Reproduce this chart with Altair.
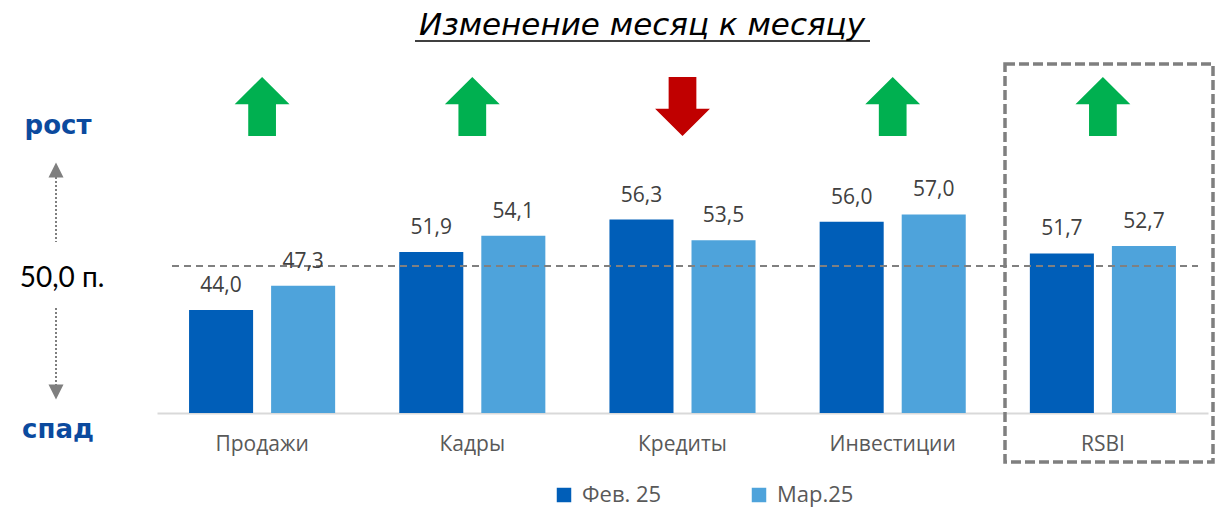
import altair as alt
import pandas as pd

# ---------------- data ----------------
categories = ["Продажи", "Кадры", "Кредиты", "Инвестиции", "RSBI"]
feb_values = [44.0, 51.9, 56.3, 56.0, 51.7]
mar_values = [47.3, 54.1, 53.5, 57.0, 52.7]
series_names = ["Фев. 25", "Мар.25"]
series_colors = ["#005EB8", "#4EA3DB"]
threshold = 50.0
y_min, y_max = 30, 78
title_text = "Изменение месяц к месяцу"

rows = []
for c, f, m in zip(categories, feb_values, mar_values):
    rows.append({"cat": c, "series": series_names[0], "value": f})
    rows.append({"cat": c, "series": series_names[1], "value": m})
df = pd.DataFrame(rows)

arrows = pd.DataFrame({
    "cat": categories,
    "dir": ["up" if m > f else "down" for f, m in zip(feb_values, mar_values)],
})
dummy = pd.DataFrame({"a": [0]})

W, H = 1051, 353

x_scale = alt.Scale(domain=categories, paddingInner=0.305, paddingOuter=0.1525)
y_scale = alt.Scale(domain=[y_min, y_max], nice=False, zero=False)
off_scale = alt.Scale(domain=series_names, paddingInner=0.2195, paddingOuter=0)

x_enc = alt.X("cat:N", scale=x_scale, sort=categories,
              axis=alt.Axis(title=None, labelFont="Open Sans", labelFontSize=21,
                            labelColor="#595959", labelPadding=20, ticks=False,
                            domainColor="#D9D9D9", domainWidth=2, labelAngle=0,
                            grid=False))
off_enc = alt.XOffset("series:N", scale=off_scale, sort=series_names)

bars = alt.Chart(df).mark_bar().encode(
    x=x_enc,
    xOffset=off_enc,
    y=alt.Y("value:Q", scale=y_scale, axis=None),
    y2=alt.datum(y_min),
    color=alt.Color("series:N", sort=series_names,
                    scale=alt.Scale(domain=series_names, range=series_colors),
                    legend=alt.Legend(title=None, orient="none", legendX=396, legendY=424,
                                      direction="horizontal", symbolType="square",
                                      symbolSize=210, symbolStrokeWidth=0,
                                      labelFont="Open Sans", labelFontSize=22,
                                      labelColor="#595959", columnPadding=86,
                                      labelOffset=7, padding=0)),
)

labels = alt.Chart(df).transform_calculate(
    label="replace(format(datum.value, '.1f'), '.', ',')"
).mark_text(dy=-18, baseline="alphabetic", font="Open Sans", fontSize=21,
            color="#404040").encode(
    x=alt.X("cat:N", scale=x_scale, sort=categories),
    xOffset=off_enc,
    y=alt.Y("value:Q", scale=y_scale),
    text="label:N",
)

ref_line = alt.Chart(dummy).mark_rule(color="#808080", strokeWidth=2,
                                      strokeDash=[7, 5]).encode(
    y=alt.datum(threshold), x=alt.value(15), x2=alt.value(1041)
)

up_path = "M0,-1L0.93,-0.08L0.47,-0.08L0.47,1L-0.47,1L-0.47,-0.08L-0.93,-0.08Z"
down_path = "M0,1L0.93,0.08L0.47,0.08L0.47,-1L-0.47,-1L-0.47,0.08L-0.93,0.08Z"

arrow_layer = alt.Chart(arrows).mark_point(filled=True, opacity=1, size=3481,
                                           strokeWidth=0).encode(
    x=alt.X("cat:N", scale=x_scale, sort=categories),
    y=alt.value(46.5),
    shape=alt.Shape("dir:N", scale=alt.Scale(domain=["up", "down"],
                                             range=[up_path, down_path]), legend=None),
    fill=alt.Fill("dir:N", scale=alt.Scale(domain=["up", "down"],
                                           range=["#00B050", "#C00000"]), legend=None),
)

rsbi_box = alt.Chart(dummy).mark_rect(filled=False, stroke="#7F7F7F", strokeWidth=3.5,
                                      strokeDash=[10, 4]).encode(
    x=alt.value(848), x2=alt.value(1056), y=alt.value(4), y2=alt.value(402)
)

title = alt.Chart(dummy).mark_text(text=title_text, font="DejaVu Sans", fontSize=31,
                                   fontStyle="italic", color="#000000",
                                   baseline="alphabetic", align="center").encode(
    x=alt.value(485), y=alt.value(-25)
)
underline = alt.Chart(dummy).mark_rule(color="#000000", strokeWidth=1.5).encode(
    x=alt.value(258), x2=alt.value(713), y=alt.value(-19)
)

rost = alt.Chart(dummy).mark_text(text="рост", font="DejaVu Sans", fontSize=26,
                                  fontWeight="bold", color="#0B4A9E").encode(
    x=alt.value(-99), y=alt.value(66)
)
spad = alt.Chart(dummy).mark_text(text="спад", font="DejaVu Sans", fontSize=26,
                                  fontWeight="bold", color="#0B4A9E").encode(
    x=alt.value(-99), y=alt.value(370)
)
thr_text = alt.Chart(dummy).mark_text(
    text=f"{threshold:.1f}".replace(".", ",") + " п.", font="Lato", fontSize=28,
    color="#000000").encode(x=alt.value(-95), y=alt.value(219))

dot_up = alt.Chart(dummy).mark_rule(color="#7F7F7F", strokeWidth=2,
                                    strokeDash=[2, 2]).encode(
    x=alt.value(-101), y=alt.value(117), y2=alt.value(182))
dot_down = alt.Chart(dummy).mark_rule(color="#7F7F7F", strokeWidth=2,
                                      strokeDash=[2, 2]).encode(
    x=alt.value(-101), y=alt.value(248), y2=alt.value(326))
tri_up = alt.Chart(dummy).mark_point(filled=True, opacity=1, size=225, color="#7F7F7F",
                                     shape="M0,-1L1,1L-1,1Z").encode(
    x=alt.value(-101), y=alt.value(110))
tri_down = alt.Chart(dummy).mark_point(filled=True, opacity=1, size=225, color="#7F7F7F",
                                       shape="M0,1L1,-1L-1,-1Z").encode(
    x=alt.value(-101), y=alt.value(332))

chart = alt.layer(
    bars, ref_line, labels, arrow_layer, rsbi_box, title, underline,
    rost, spad, thr_text, dot_up, dot_down, tri_up, tri_down
).properties(
    width=W, height=H,
    autosize=alt.AutoSizeParams(type="none"),
    padding={"left": 157, "top": 60, "right": 7, "bottom": 96},
).configure(background="white").configure_view(strokeWidth=0, stroke="transparent")

chart.save("out.html", embed_options={"renderer": "svg", "actions": False})
